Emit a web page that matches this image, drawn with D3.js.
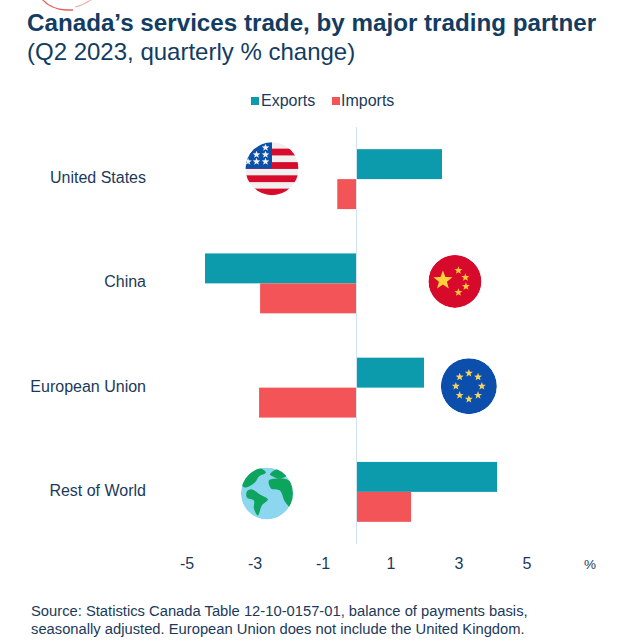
<!DOCTYPE html>
<html><head><meta charset="utf-8">
<script src="https://cdn.jsdelivr.net/npm/d3@7"></script>
<style>html,body{margin:0;padding:0;background:#fff}svg{display:block}text{font-family:"Liberation Sans",Arial,sans-serif}</style>
</head><body><svg id="c" width="622" height="644"></svg>
<script>
const categories = ["United States","China","European Union","Rest of World"];
const exportsPct = [2.5,-4.47,1.97,4.12];
const importsPct = [-0.58,-2.85,-2.88,1.59];
const tickValues = [-5,-3,-1,1,3,5];
const seriesNames = ["Exports","Imports"];
const titleText = "Canada\u2019s services trade, by major trading partner";
const subtitleText = "(Q2 2023, quarterly % change)";
const sourceLines = ["Source: Statistics Canada Table 12-10-0157-01, balance of payments basis,","seasonally adjusted. European Union does not include the United Kingdom."];

const ink="#1b3a5a", titleInk="#123c62", teal="#0c9aad", red="#f25457";
const svg=d3.select("#c");
const x=d3.scaleLinear().domain([-5,5]).range([187,527]);
const y=d3.scaleBand().domain(categories).range([127,544]);
const bar=d3.scaleBand().domain(seriesNames).range([0,y.bandwidth()]).paddingOuter(0.74).paddingInner(0);

// logo fragment at the top edge
svg.append("path").attr("d","M42,-1 Q50,9 66,10 L73,10").attr("fill","none").attr("stroke","#e8605f").attr("stroke-width",1.3);
svg.append("path").attr("d","M75,7 Q84,5 92,-1").attr("fill","none").attr("stroke","#f3b3ae").attr("stroke-width",1.2);

svg.append("text").attr("x",27).attr("y",31).attr("font-size",24.2).attr("font-weight",700).attr("fill",titleInk).text(titleText);
svg.append("text").attr("x",27).attr("y",60).attr("font-size",24).attr("fill",titleInk).text(subtitleText);

// legend
const leg=[{n:seriesNames[0],c:teal,sx:251,tx:261},{n:seriesNames[1],c:red,sx:332,tx:341}];
leg.forEach(l=>{
 svg.append("rect").attr("x",l.sx).attr("y",97).attr("width",8).attr("height",8).attr("fill",l.c);
 svg.append("text").attr("x",l.tx).attr("y",106).attr("font-size",16).attr("fill",ink).text(l.n);
});

// zero line
svg.append("line").attr("x1",x(0)-0.5).attr("x2",x(0)-0.5).attr("y1",127).attr("y2",544).attr("stroke","#cfe4f0").attr("stroke-width",1);

// bars
const rows=categories.map((c,i)=>({c,Exports:exportsPct[i],Imports:importsPct[i]}));
seriesNames.forEach((s,si)=>{
 svg.selectAll(".b"+si).data(rows).join("rect")
  .attr("x",d=>Math.min(x(0),x(d[s])))
  .attr("width",d=>Math.abs(x(d[s])-x(0))-(d[s]<0?1:0))
  .attr("y",d=>y(d.c)+bar(s))
  .attr("height",bar.bandwidth())
  .attr("fill",si?red:teal);
});

// category labels
svg.selectAll(".cat").data(categories).join("text")
 .attr("x",146).attr("y",d=>y(d)+y.bandwidth()/2+4).attr("text-anchor","end").attr("font-size",16).attr("fill",ink).text(d=>d);

// axis
const ax=svg.append("g").attr("transform","translate(-0.5,544)").call(d3.axisBottom(x).tickValues(tickValues).tickSize(0).tickPadding(14).tickFormat(d3.format("d")));
ax.select(".domain").remove();
ax.selectAll("text").attr("font-size",16).attr("fill",ink).attr("font-family",'"Liberation Sans"').text(d=>String(d));
svg.append("text").attr("x",590).attr("y",569).attr("text-anchor","middle").attr("font-size",13.5).attr("fill",ink).text("%");

// source
sourceLines.forEach((t,i)=>svg.append("text").attr("x",31).attr("y",616+i*17.5).attr("font-size",14.75).attr("fill",ink).text(t));

// badges
const defs=svg.append("defs");
function badge(id,vx,cy,r){
 defs.append("clipPath").attr("id",id).append("circle").attr("r",r);
 return svg.append("g").attr("transform",`translate(${x(vx)},${cy})`).append("g").attr("clip-path",`url(#${id})`);
}
function star(g,cx,cy,R,fill){
 const pts=d3.range(10).map(i=>{const a=-Math.PI/2+i*Math.PI/5,q=i%2?R*0.42:R;return [cx+q*Math.cos(a),cy+q*Math.sin(a)];});
 g.append("polygon").attr("points",pts.join(" ")).attr("fill",fill);
}
// USA
{
 const r=26.5,g=badge("us",-2.5,y(categories[0])+y.bandwidth()/2-10.5,r);
 g.append("rect").attr("x",-r).attr("y",-r).attr("width",2*r).attr("height",2*r).attr("fill","#f0f0f0");
 [-20,-6.5,6.7,20].forEach(t=>g.append("rect").attr("x",-r).attr("y",t).attr("width",2*r).attr("height",6.8).attr("fill","#d80b2c"));
 g.append("rect").attr("x",-r).attr("y",-r).attr("width",r).attr("height",26.5).attr("fill","#0b50a8");
 [[-6.5,-21],[-15.5,-14],[-6.5,-14],[-24,-7],[-15.5,-7],[-6.5,-7]].forEach(p=>star(g,p[0],p[1],4,"#f0f0f0"));
}
// China
{
 const r=26.5,g=badge("cn",2.88,y(categories[1])+y.bandwidth()/2-2,r);
 g.append("circle").attr("r",r).attr("fill","#d80a2c");
 star(g,-12,-1,10,"#ffd23c");
 [[3.5,-11],[10.5,-4],[11,5],[3.5,11]].forEach(p=>star(g,p[0],p[1],4.2,"#ffc63a"));
}
// EU
{
 const r=28,g=badge("eu",3.29,y(categories[2])+y.bandwidth()/2-1.5,r);
 g.append("circle").attr("r",r).attr("fill","#0c4eab");
 d3.range(8).forEach(i=>{const a=-Math.PI/2+i*Math.PI/4;star(g,13*Math.cos(a),13*Math.sin(a),4.2,"#f4d35e");});
}
// World
{
 const r=26,g=badge("wd",-2.65,y(categories[3])+y.bandwidth()/2+1.5,r);
 g.append("circle").attr("r",r).attr("fill","#8cd6f0");
 const land=[
  [[-26,-10],[-20,-22],[-9,-26],[-1,-21],[-8,-17],[-12,-11],[-22,-6]],
  [[3,-19],[10,-24],[20,-18],[12,-15],[6,-17]],
  [[2,-13],[10,-15],[22,-13],[30,-3],[26,16],[18,8],[13,-3],[4,-5]],
  [[-20,-2],[-15,-4],[-7,1],[1,6],[-5,12],[-9,22],[-13,15],[-13,7],[-20,4]]
 ];
 const ln=d3.line().curve(d3.curveCatmullRomClosed);
 land.forEach(p=>g.append("path").attr("d",ln(p)).attr("fill","#0da45e"));
}
</script></body></html>
